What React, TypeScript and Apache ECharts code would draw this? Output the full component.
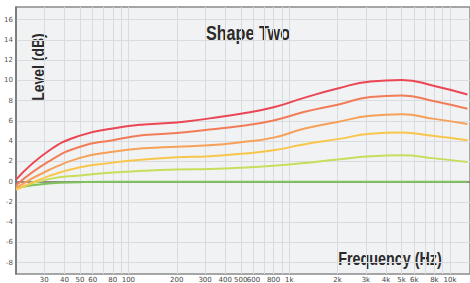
import React, { useEffect, useRef } from "react";
import * as echarts from "echarts";

const freqs = [20, 32, 50, 80, 125, 200, 320, 500, 800, 1250, 2000, 3200, 5000, 8000, 12850];
const level1 = [0.2, 3.05, 4.55, 5.25, 5.65, 5.85, 6.25, 6.7, 7.35, 8.3, 9.2, 9.9, 10.05, 9.45, 8.6];
const level2 = [-0.35, 2.0, 3.45, 4.1, 4.6, 4.8, 5.15, 5.5, 6.05, 6.9, 7.6, 8.35, 8.5, 7.95, 7.2];
const level3 = [-0.6, 1.15, 2.35, 2.95, 3.3, 3.45, 3.6, 3.9, 4.35, 5.25, 5.9, 6.5, 6.65, 6.2, 5.7];
const level4 = [-0.8, 0.55, 1.42, 1.88, 2.2, 2.4, 2.52, 2.75, 3.1, 3.7, 4.2, 4.72, 4.85, 4.5, 4.1];
const level5 = [-0.7, 0.25, 0.62, 0.9, 1.08, 1.2, 1.25, 1.37, 1.57, 1.85, 2.2, 2.5, 2.6, 2.3, 1.95];
const level6 = [-0.6, -0.18, -0.05, 0, 0, 0, 0, 0, 0, 0, 0, 0, 0, 0, 0];

const seriesLevels = [level6, level5, level4, level3, level2, level1];
const seriesColors = ["#80c35a", "#c9dd5c", "#f9c64c", "#f6a058", "#f27c57", "#ea4653"];

const xLabelFreqs = [30, 40, 50, 60, 80, 100, 200, 300, 400, 500, 600, 800, 1000, 2000, 3000, 4000, 5000, 6000, 8000, 10000];
const xGridFreqs = [30, 40, 50, 60, 70, 80, 90, 100, 200, 300, 400, 500, 600, 700, 800, 900, 1000, 2000, 3000, 4000, 5000, 6000, 7000, 8000, 9000, 10000];
const yTicks = [-8, -6, -4, -2, 0, 2, 4, 6, 8, 10, 12, 14, 16];

const titleText = "Shape Two";
const yName = "Level (dB)";
const xName = "Frequency (Hz)";

const boldFont = "'Liberation Sans', Arial, sans-serif";

function fmtFreq(v: number): string {
  const f = Math.round(Math.pow(10, v));
  if (f >= 1000) return Math.round(f / 1000) + "k";
  return String(f);
}

export default function App() {
  const ref = useRef<HTMLDivElement>(null);
  useEffect(() => {
    if (!ref.current) return;
    const chart = echarts.init(ref.current, null, { renderer: "svg" });
    const xMin = Math.log10(20);
    const xMax = xMin + 456 / 161.5;
    chart.setOption({
      animation: false,
      grid: {
        left: 16,
        right: -2,
        top: 7,
        bottom: 7,
        show: true,
        backgroundColor: "#f1f2f4",
        borderColor: "#8a8a8a",
        borderWidth: 1.5,
      },
      xAxis: {
        type: "value",
        min: xMin,
        max: xMax,
        axisLine: { show: true, lineStyle: { color: "#707070", width: 1.5 } },
        axisTick: { show: false, customValues: xGridFreqs.map((f) => Math.log10(f)) },
        splitLine: { show: true, lineStyle: { color: "#d9dbde", width: 1 } },
        axisLabel: {
          customValues: xLabelFreqs.map((f) => Math.log10(f)),
          formatter: (v: number) => fmtFreq(v),
          fontSize: 7,
          color: "#444",
          margin: 2,
          fontFamily: "'DejaVu Sans', sans-serif",
        },
      },
      yAxis: {
        type: "value",
        min: -9.12,
        max: 17.25,
        axisLine: { show: true, lineStyle: { color: "#707070", width: 1.5 } },
        axisTick: { show: false, customValues: yTicks },
        splitLine: { show: true, lineStyle: { color: "#d9dbde", width: 1 } },
        axisLabel: {
          customValues: yTicks,
          fontSize: 7,
          color: "#555",
          margin: 3,
          fontFamily: "'DejaVu Sans', sans-serif",
        },
      },
      graphic: [
        {
          type: "text",
          x: 248,
          y: 33,
          scaleX: 0.83,
          style: {
            text: titleText,
            fontSize: 19.5,
            fontWeight: "bold",
            fontFamily: boldFont,
            fill: "#2a2a2a",
            align: "center",
            verticalAlign: "middle",
          },
        },
        {
          type: "text",
          x: 38,
          y: 67,
          rotation: Math.PI / 2,
          scaleX: 0.82,
          style: {
            text: yName,
            fontSize: 17,
            fontWeight: "bold",
            fontFamily: boldFont,
            fill: "#2a2a2a",
            align: "center",
            verticalAlign: "middle",
          },
        },
        {
          type: "text",
          x: 390,
          y: 259,
          scaleX: 0.82,
          style: {
            text: xName,
            fontSize: 17.5,
            fontWeight: "bold",
            fontFamily: boldFont,
            fill: "#2a2a2a",
            align: "center",
            verticalAlign: "middle",
          },
        },
      ],
      series: seriesLevels.map((vals, i) => ({
        type: "line",
        data: freqs.map((f, j) => [Math.log10(f), vals[j]]),
        showSymbol: false,
        smooth: 0.5,
        lineStyle: { color: seriesColors[i], width: 2 },
        itemStyle: { color: seriesColors[i] },
        z: 3 + i,
      })),
    });
    return () => chart.dispose();
  }, []);
  return <div ref={ref} style={{ position: "absolute", left: 0, top: 0, width: 470, height: 283 }} />;
}
